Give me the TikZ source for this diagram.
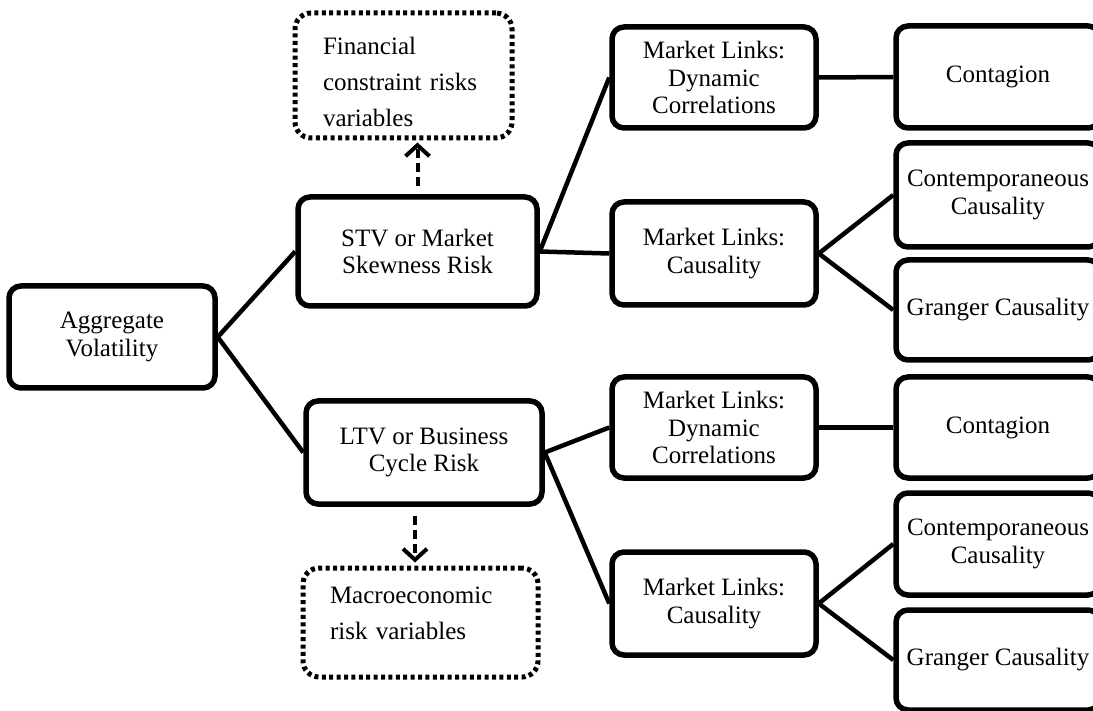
\documentclass[tikz,border=0pt]{standalone}
\usepackage{fontspec}
\setmainfont{Liberation Serif}
\usetikzlibrary{arrows.meta}
\tikzset{
  solidbox/.style={draw, line width=5.5pt, rounded corners=12pt, align=center,
    inner sep=0pt, font=\fontsize{25}{27.5}\selectfont},
  dotbox/.style={draw, line width=5pt, rounded corners=16pt, align=left,
    dash pattern=on 4pt off 3.4pt, inner ysep=0pt,
    font=\fontsize{25}{36}\selectfont},
  link/.style={line width=4.5pt},
  darrow/.style={line width=4pt, dash pattern=on 9pt off 5pt,
    -{Straight Barb[length=11pt,width=24pt,line width=4pt]}}
}
\begin{document}
\begin{tikzpicture}[x=1pt,y=-1pt]
\useasboundingbox (0,0) rectangle (1093,711);
\clip (0,0) rectangle (1093,711);
% level 0
\node[solidbox, minimum width=206, minimum height=102] (agg) at (112,337) {Aggregate\\Volatility};
% level 1
\node[solidbox, minimum width=239, minimum height=109] (stv) at (417.5,251.5) {STV or Market\\Skewness Risk};
\node[solidbox, minimum width=236, minimum height=103] (ltv) at (424,452.5) {LTV or Business\\Cycle Risk};
% dotted
\node[dotbox, minimum width=217, minimum height=125, text width=161, inner xsep=28] (fin) at (403.5,75.5) {\rule{0pt}{30pt}Financial\\constraint risks\\variables};
\node[dotbox, minimum width=235, minimum height=109, text width=181, inner xsep=27] (mac) at (420.5,622.5) {Macroeconomic\\risk variables\rule[-18pt]{0pt}{18pt}};
% level 2
\node[solidbox, minimum width=204, minimum height=101] (mld1) at (714,77.5) {Market Links:\\Dynamic\\Correlations};
\node[solidbox, minimum width=204, minimum height=103] (mlc1) at (714,253.5) {Market Links:\\Causality};
\node[solidbox, minimum width=204, minimum height=101] (mld2) at (714,427.5) {Market Links:\\Dynamic\\Correlations};
\node[solidbox, minimum width=204, minimum height=103] (mlc2) at (714,603.5) {Market Links:\\Causality};
% level 3
\node[solidbox, minimum width=204, minimum height=102] (con1) at (998,77) {Contagion};
\node[solidbox, minimum width=204, minimum height=104] (cc1) at (998,195) {Contemporaneous\\Causality};
\node[solidbox, minimum width=204, minimum height=100] (gc1) at (998,310) {Granger Causality};
\node[solidbox, minimum width=204, minimum height=101] (con2) at (998,427.5) {Contagion};
\node[solidbox, minimum width=204, minimum height=102] (cc2) at (998,544) {Contemporaneous\\Causality};
\node[solidbox, minimum width=204, minimum height=100] (gc2) at (998,660) {Granger Causality};
% connectors
\draw[link] (agg.east) -- (stv.west);
\draw[link] (agg.east) -- (ltv.west);
\draw[link] (stv.east) -- (mld1.west);
\draw[link] (stv.east) -- (mlc1.west);
\draw[link] (ltv.east) -- (mld2.west);
\draw[link] (ltv.east) -- (mlc2.west);
\draw[link] (mld1.east) -- (con1.west);
\draw[link] (mlc1.east) -- (cc1.west);
\draw[link] (mlc1.east) -- (gc1.west);
\draw[link] (mld2.east) -- (con2.west);
\draw[link] (mlc2.east) -- (cc2.west);
\draw[link] (mlc2.east) -- (gc2.west);
% dashed arrows
\draw[darrow, shorten <=8pt, shorten >=2pt] (stv.north) -- (stv.north |- fin.south);
\draw[darrow, shorten <=9pt, shorten >=3pt] ([xshift=-9pt]ltv.south) -- ([xshift=-9pt]ltv.south |- mac.north);
\end{tikzpicture}
\end{document}
